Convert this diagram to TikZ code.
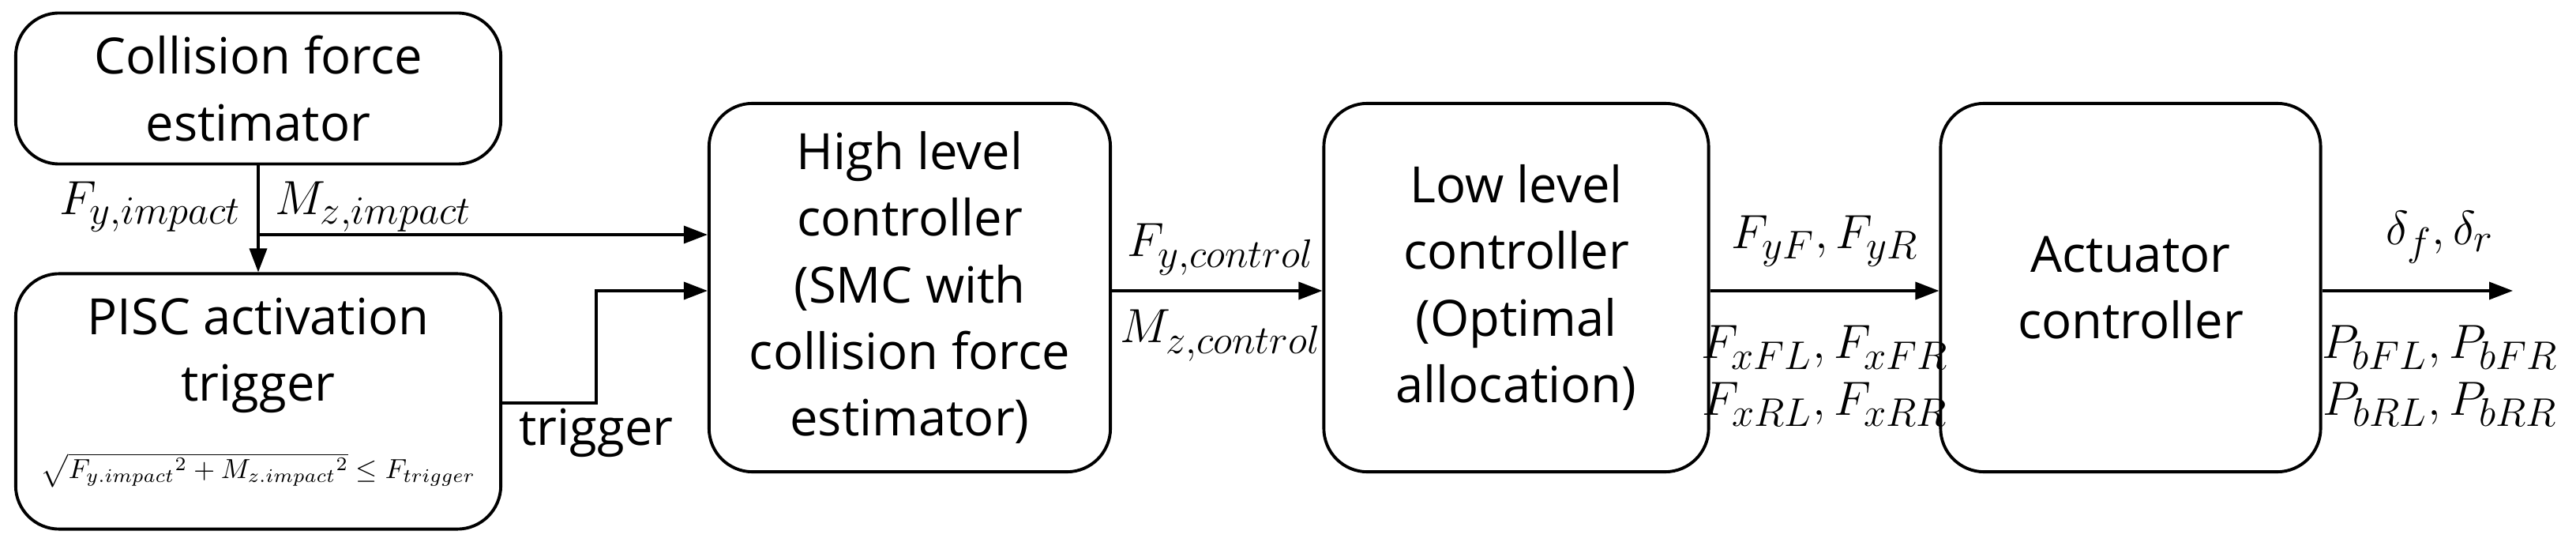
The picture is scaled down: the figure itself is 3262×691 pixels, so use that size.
\documentclass[tikz,border=0pt]{standalone}
\usepackage{fontspec}
\setmainfont{Open Sans}
\usepackage{amsmath}
\usetikzlibrary{arrows.meta}
\begin{document}
\begin{tikzpicture}[x=0.01cm,y=-0.01cm,
  blk/.style={draw,line width=1.1pt,rounded corners=0.55cm,align=center,inner sep=0pt,font=\fontsize{18}{24}\selectfont},
  lbl/.style={font=\fontsize{19}{24}\selectfont},
  sig/.style={line width=1pt,-{Triangle[length=0.3cm,width=0.22cm]}}]
  \useasboundingbox (0,0) rectangle (3262,691);
  % blocks
  \node[blk,minimum width=6.14cm,minimum height=1.91cm] (cfe) at (327,112) {Collision force\\estimator};
  \node[blk,minimum width=6.14cm,minimum height=3.23cm] (pisc) at (327,508) {};
  \node[blk,draw=none,anchor=north] (pisctxt) at (327,375) {PISC activation\\trigger};
  \node[inner sep=0pt] (cond) at (327,595) {\resizebox{5.5cm}{!}{$\sqrt{F_{y.impact}{}^2+M_{z.impact}{}^2}\le F_{trigger}$}};
  \node[blk,minimum width=5.08cm,minimum height=4.66cm] (hlc) at (1152,364) {High level\\controller\\(SMC with\\collision force\\estimator)};
  \node[blk,minimum width=4.87cm,minimum height=4.66cm] (llc) at (1920,364) {Low level\\controller\\(Optimal\\allocation)};
  \node[blk,minimum width=4.81cm,minimum height=4.66cm] (act) at (2698,364) {Actuator\\controller};
  % connectors
  \coordinate (jn) at (327,297);
  \coordinate (trg) at (755,510);
  \coordinate (out) at (3182,368);
  \draw[line width=1pt] (cfe.south) -- (jn);
  \draw[sig] (jn) -- (pisc.north);
  \draw[sig] (jn) -- (jn -| hlc.west);
  \draw[sig] (pisc.east |- trg) -- (trg) -- ++(0,-142) -- (hlc.west |- 0,368);
  \draw[sig] (hlc.east |- 0,368) -- (llc.west |- 0,368);
  \draw[sig] (llc.east |- 0,368) -- (act.west |- 0,368);
  \draw[sig] (act.east |- 0,368) -- (out);
  % labels
  \node[lbl,anchor=east] (fyi) at (318,262) {$F_{y,impact}$};
  \node[lbl,anchor=west] (mzi) at (336,262) {$M_{z,impact}$};
  \node[blk,draw=none] (trgl) at (755,548) {trigger};
  \node[lbl] (fyc) at (1546,316) {$F_{y,control}$};
  \node[lbl] (mzc) at (1546,425) {$M_{z,control}$};
  \node[lbl] (fyfr) at (2311,305) {$F_{yF},F_{yR}$};
  \node[lbl] (fxf) at (2311,440) {$F_{xFL},F_{xFR}$};
  \node[lbl] (fxr) at (2311,512) {$F_{xRL},F_{xRR}$};
  \node[lbl] (dlt) at (3090,300) {$\delta_f,\delta_r$};
  \node[lbl] (pbf) at (3090,440) {$P_{bFL},P_{bFR}$};
  \node[lbl] (pbr) at (3090,512) {$P_{bRL},P_{bRR}$};
\end{tikzpicture}
\end{document}
